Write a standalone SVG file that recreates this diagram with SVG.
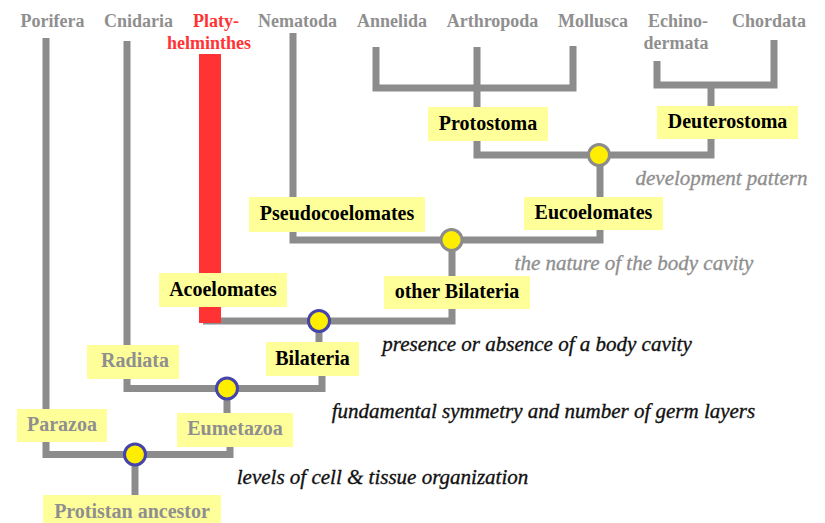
<svg xmlns="http://www.w3.org/2000/svg" width="825" height="523" viewBox="0 0 825 523">
<style>
  .taxon{font-family:"Liberation Serif","Times New Roman",serif;font-weight:bold;font-size:18px;fill:#8f8f8f;text-anchor:middle}
  .red{fill:#ff3333}
  .lbl{font-family:"Liberation Serif","Times New Roman",serif;font-weight:bold;font-size:20px;text-anchor:middle;fill:#000}
  .lbl.g{fill:#8f8f8f}
  .box{fill:#ffff99}
  .crit{font-family:"Liberation Serif","Times New Roman",serif;font-style:italic;font-size:21px;text-anchor:middle;fill:#111;stroke:#111;stroke-width:0.35}
  .crit.g{fill:#8f8f8f;stroke:#8f8f8f}
  .ln{fill:none;stroke:#8c8c8c;stroke-width:7;stroke-linejoin:miter}
  .dot{fill:#ffee00;stroke-width:3}
  .dot.g{stroke:#8c8c8c}
  .dot.b{stroke:#4444aa}
</style>
<rect width="825" height="523" fill="#fff"/>

<g id="connectors">
  <path class="ln" d="M46 38 V454.5 H230 V420"/>
  <path class="ln" d="M135 454.5 V500"/>
  <path class="ln" d="M127 41 V388.5 H322 V350"/>
  <path class="ln" d="M227 388.5 V420"/>
  <path class="ln" d="M203 321 H452 V240"/>
  <path class="ln" d="M319 321 V350"/>
  <path class="ln" d="M293 33 V240 H600 V155"/>
  <path class="ln" d="M477 47 V155 H711 V85"/>
  <path class="ln" d="M376 47 V88 H573 V46"/>
  <path class="ln" d="M657 61 V85 H774 V40"/>
</g>

<g id="platyhelminthes-bar"><rect x="199" y="54" width="22" height="269" fill="#ff3333"/></g>

<g id="taxa">
  <text class="taxon" x="52.5" y="27">Porifera</text>
  <text class="taxon" x="138.5" y="27">Cnidaria</text>
  <text class="taxon red" x="216" y="27">Platy-</text>
  <text class="taxon red" x="209" y="49">helminthes</text>
  <text class="taxon" x="297.5" y="27">Nematoda</text>
  <text class="taxon" x="392" y="27">Annelida</text>
  <text class="taxon" x="492.5" y="27">Arthropoda</text>
  <text class="taxon" x="593" y="27">Mollusca</text>
  <text class="taxon" x="678" y="27">Echino-</text>
  <text class="taxon" x="676" y="49">dermata</text>
  <text class="taxon" x="769" y="27">Chordata</text>
</g>

<g id="node-protostoma"><rect class="box" x="428" y="107" width="120" height="34"/><text class="lbl" x="488" y="130">Protostoma</text></g>
<g id="node-deuterostoma"><rect class="box" x="657" y="106" width="141" height="33"/><text class="lbl" x="727.5" y="128">Deuterostoma</text></g>
<g id="node-pseudocoelomates"><rect class="box" x="249" y="197" width="176" height="35"/><text class="lbl" x="337" y="220">Pseudocoelomates</text></g>
<g id="node-eucoelomates"><rect class="box" x="524" y="197" width="139" height="33"/><text class="lbl" x="593.5" y="219">Eucoelomates</text></g>
<g id="node-acoelomates"><rect class="box" x="159" y="273" width="128" height="34"/><text class="lbl" x="223" y="296">Acoelomates</text></g>
<g id="node-other-bilateria"><rect class="box" x="384" y="276" width="146" height="33"/><text class="lbl" x="457" y="298">other Bilateria</text></g>
<g id="node-bilateria"><rect class="box" x="266" y="342" width="93" height="34"/><text class="lbl" x="312.5" y="365">Bilateria</text></g>
<g id="node-radiata"><rect class="box" x="87" y="345" width="92" height="34"/><text class="lbl g" x="135" y="367">Radiata</text></g>
<g id="node-parazoa"><rect class="box" x="17" y="409" width="90" height="33"/><text class="lbl g" x="62" y="431">Parazoa</text></g>
<g id="node-eumetazoa"><rect class="box" x="177" y="413" width="116" height="34"/><text class="lbl g" x="235" y="435">Eumetazoa</text></g>
<g id="node-protistan-ancestor"><rect class="box" x="43" y="495" width="178" height="28"/><text class="lbl g" x="132" y="518">Protistan ancestor</text></g>

<g id="branch-points">
  <circle class="dot g" cx="599" cy="155" r="10.5"/>
  <circle class="dot g" cx="451.5" cy="240" r="10.5"/>
  <circle class="dot b" cx="319" cy="321" r="10.5"/>
  <circle class="dot b" cx="227" cy="388.5" r="10.5"/>
  <circle class="dot b" cx="135" cy="454.5" r="10.5"/>
</g>

<g id="criteria">
  <text class="crit g" x="721.5" y="185">development pattern</text>
  <text class="crit g" x="634" y="270">the nature of the body cavity</text>
  <text class="crit" x="537" y="351">presence or absence of a body cavity</text>
  <text class="crit" x="543.5" y="418">fundamental symmetry and number of germ layers</text>
  <text class="crit" x="382.5" y="484">levels of cell &amp; tissue organization</text>
</g>
</svg>
